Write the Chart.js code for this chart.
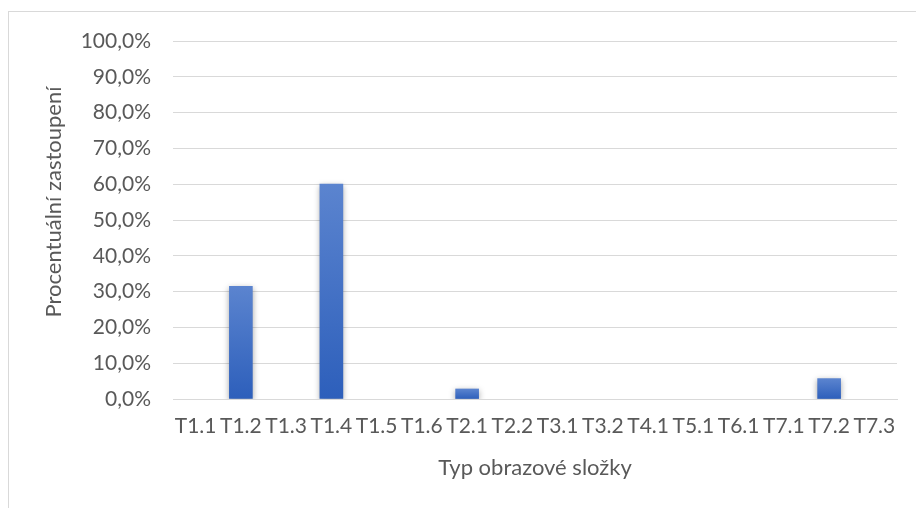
<!DOCTYPE html>
<html>
<head>
<meta charset="utf-8">
<script src="https://cdn.jsdelivr.net/npm/chart.js@4.4.0/dist/chart.umd.min.js"></script>
<style>
  html, body { margin: 0; padding: 0; background: #fff; overflow: hidden; }
  #frame { position: absolute; left: 8px; top: 11px; width: 1000px; height: 600px; border: 1px solid #d9d9d9; }
  #wrap { position: absolute; left: 0; top: 0; width: 916px; height: 508px; }
</style>
</head>
<body>
<div id="frame"></div>
<div id="wrap"><canvas id="chart" width="916" height="508"></canvas></div>
<script>
// data (percent)
const categories = ['T1.1', 'T1.2', 'T1.3', 'T1.4', 'T1.5', 'T1.6', 'T2.1', 'T2.2', 'T3.1', 'T3.2', 'T4.1', 'T5.1', 'T6.1', 'T7.1', 'T7.2', 'T7.3'];
const values = [0, 31.5, 0, 60.0, 0, 0, 2.8, 0, 0, 0, 0, 0, 0, 0, 5.7, 0];
const yTicks = [0, 10, 20, 30, 40, 50, 60, 70, 80, 90, 100];
const yTitle = 'Procentuální zastoupení';
const xTitle = 'Typ obrazové složky';

const textColor = '#595959';
const fontFamily = 'Lato, "Open Sans", sans-serif';
const tickFont = { family: fontFamily, size: 21 };
const titleFont = { family: fontFamily, size: 22 };

// per bar gradient, lighter at the top
function barFill(context) {
    const chart = context.chart;
    const y = chart.scales.y;
    const v = context.raw || 0;
    if (!v) return 'rgba(0,0,0,0)';
    if (!chart.chartArea || !y) return '#3b6cc6';
    const top = y.getPixelForValue(v);
    const base = y.getPixelForValue(0);
    const g = chart.ctx.createLinearGradient(0, top, 0, base);
    g.addColorStop(0, '#5b84cf');
    g.addColorStop(1, '#2d5fbb');
    return g;
}

const shadowPlugin = {
    id: 'barShadow',
    beforeDatasetsDraw(chart) {
        const ctx = chart.ctx;
        ctx.save();
        ctx.shadowColor = 'rgba(0,0,0,0.35)';
        ctx.shadowBlur = 6;
        ctx.shadowOffsetY = 2;
    },
    afterDatasetsDraw(chart) {
        chart.ctx.restore();
    }
};

// y title sits a bit above the plot centre, like the original
const yTitlePlugin = {
    id: 'yTitle',
    afterDraw(chart) {
        const ctx = chart.ctx;
        ctx.save();
        ctx.translate(54, 202);
        ctx.rotate(-Math.PI / 2);
        ctx.font = titleFont.size + 'px ' + fontFamily;
        ctx.fillStyle = textColor;
        ctx.textAlign = 'center';
        ctx.textBaseline = 'middle';
        ctx.fillText(yTitle, 0, 0);
        ctx.restore();
    }
};

new Chart(document.getElementById('chart'), {
    type: 'bar',
    data: {
        labels: categories,
        datasets: [{
            data: values,
            backgroundColor: barFill,
            borderWidth: 0,
            barThickness: 23
        }]
    },
    options: {
        responsive: false,
        animation: false,
        layout: { padding: { left: 0, top: 41, right: 19, bottom: 0 } },
        plugins: {
            legend: { display: false },
            tooltip: { enabled: false }
        },
        scales: {
            x: {
                grid: { display: false, drawTicks: false },
                border: { color: '#d9d9d9', width: 1 },
                ticks: {
                    color: textColor, font: tickFont, padding: 15,
                    autoSkip: false, maxRotation: 0, minRotation: 0
                },
                title: {
                    display: true, text: xTitle,
                    color: textColor, font: titleFont,
                    padding: { top: 0, bottom: 27 }
                },
                afterFit(scale) { scale.height = 109; }
            },
            y: {
                min: 0,
                max: 100,
                afterBuildTicks(scale) { scale.ticks = yTicks.map(v => ({ value: v })); },
                grid: { color: '#d9d9d9', lineWidth: 1, drawTicks: false },
                border: { display: false },
                ticks: {
                    color: textColor, font: tickFont, padding: 22,
                    callback: v => v.toFixed(1).replace('.', ',') + '%'
                },
                title: { display: false },
                afterFit(scale) { scale.width = 173; }
            }
        }
    },
    plugins: [shadowPlugin, yTitlePlugin]
});
</script>
</body>
</html>
